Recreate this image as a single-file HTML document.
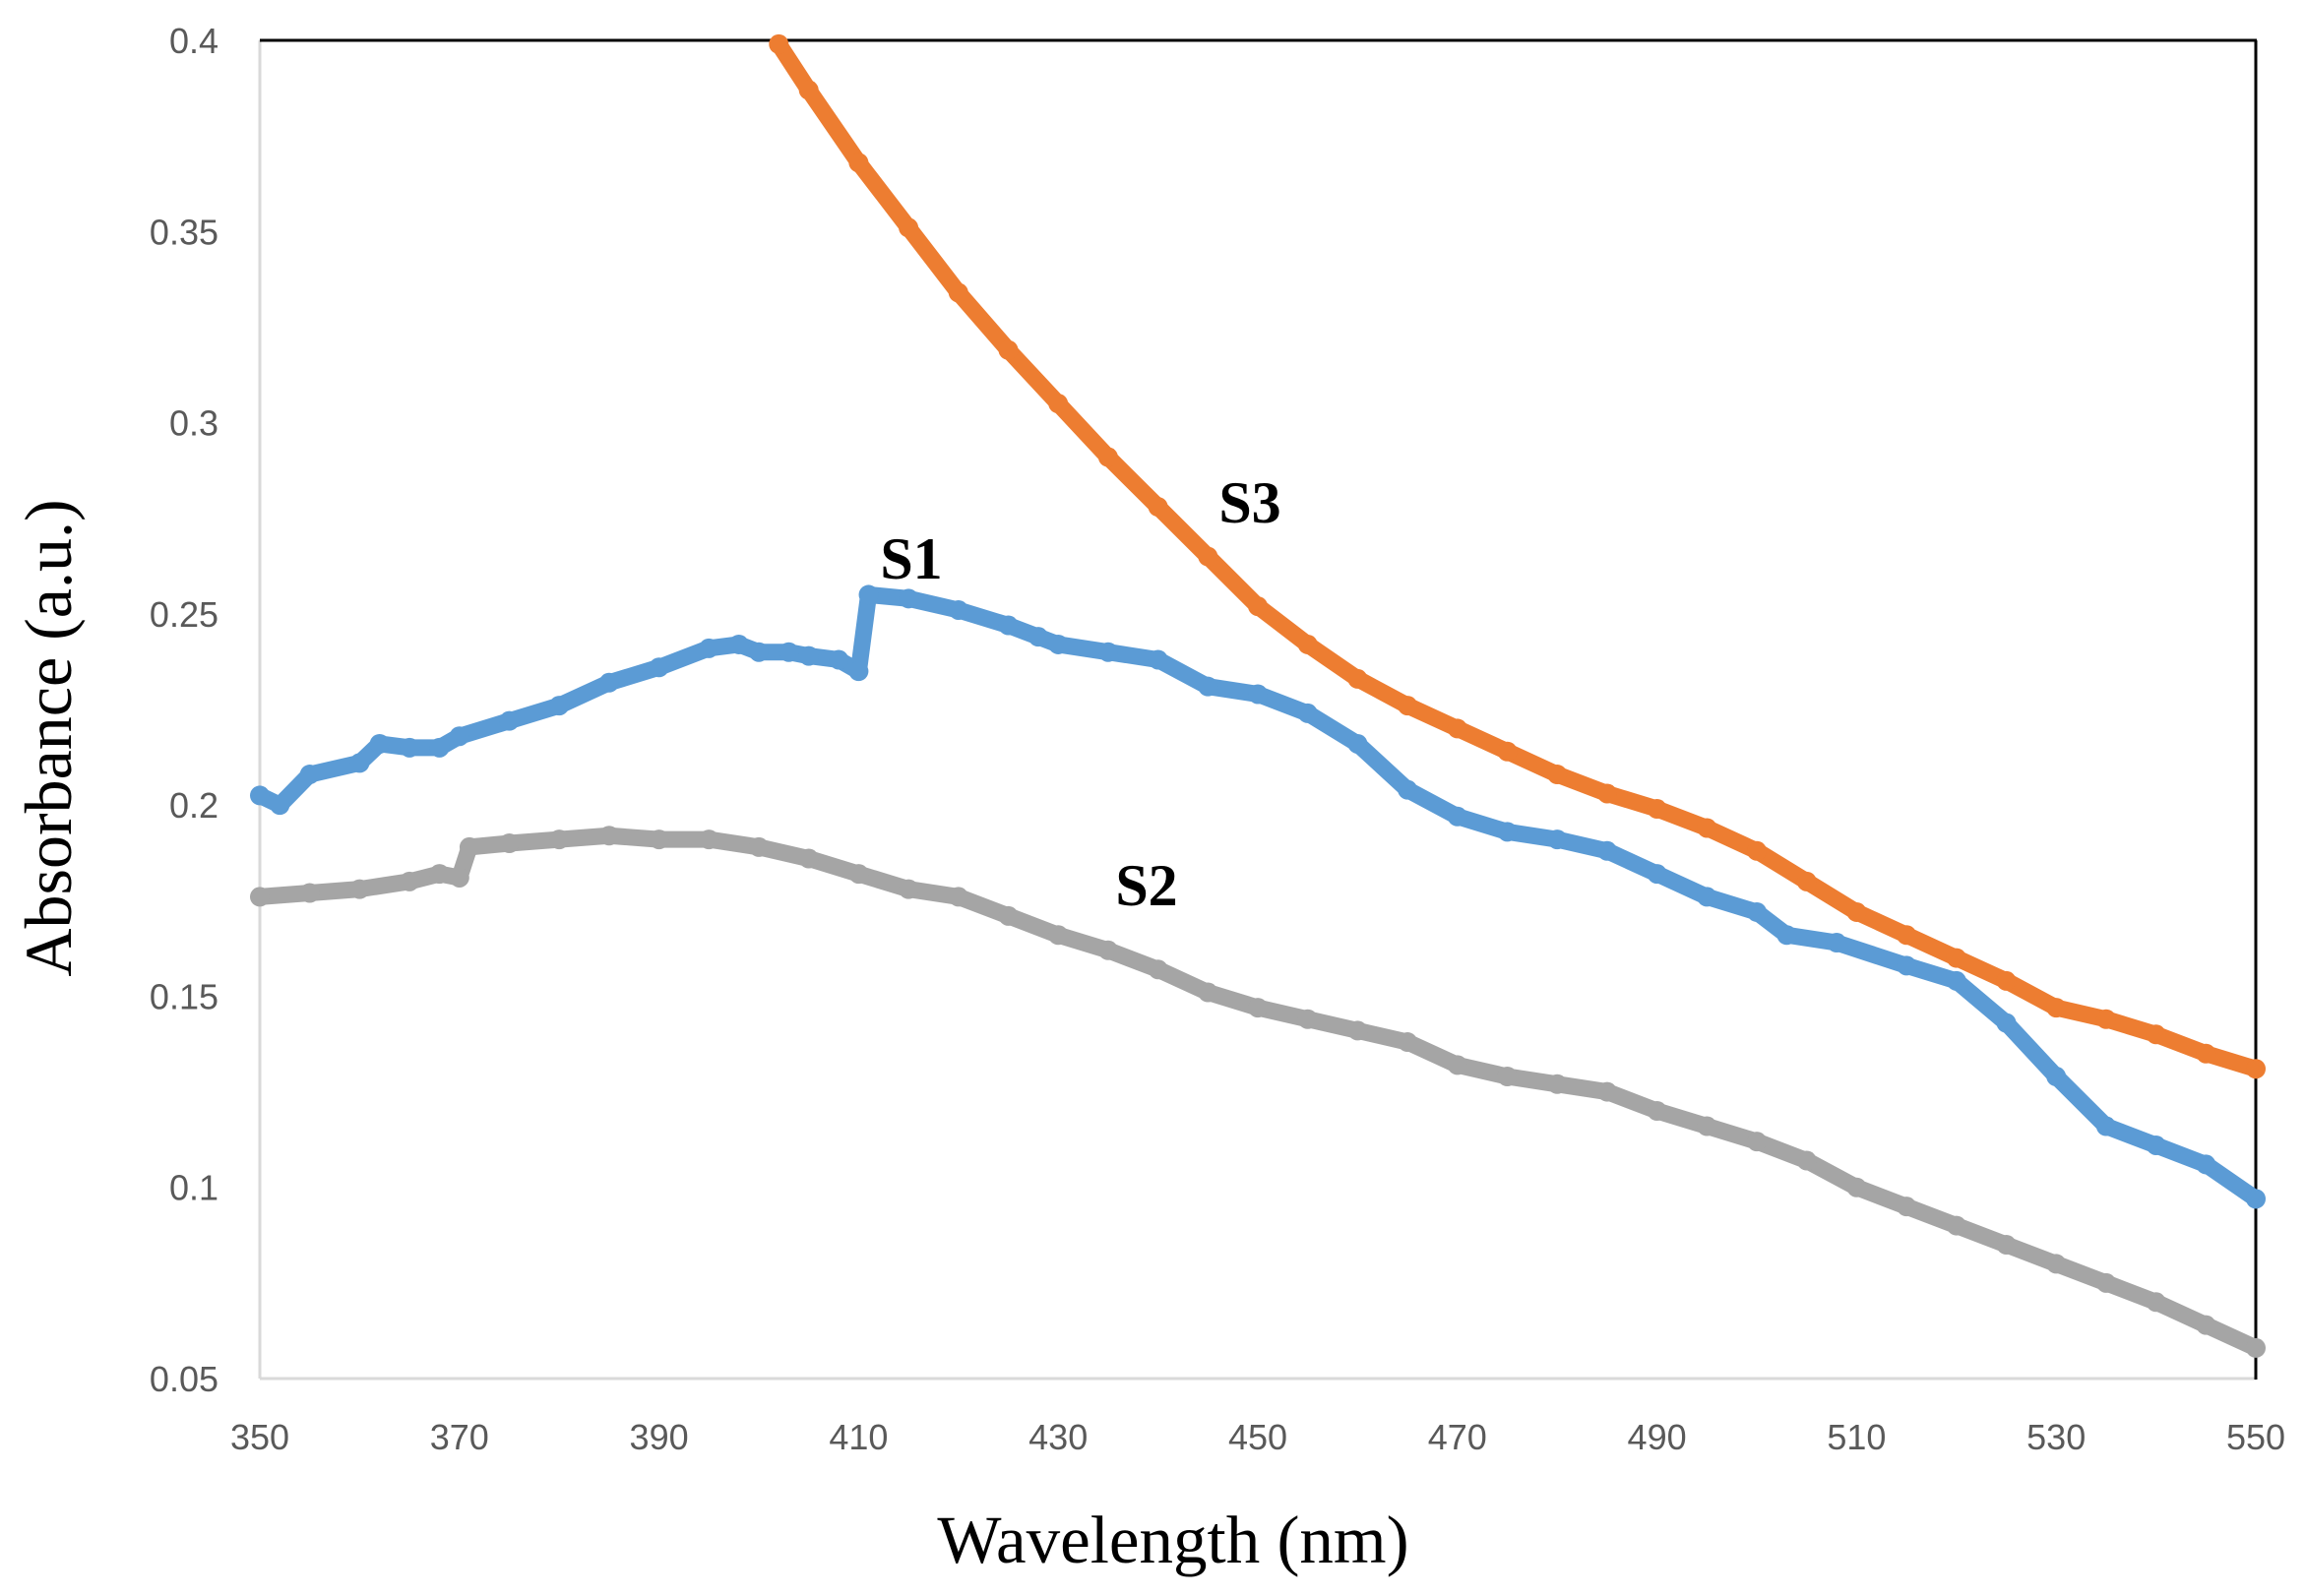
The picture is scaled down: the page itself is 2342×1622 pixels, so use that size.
<!DOCTYPE html>
<html><head><meta charset="utf-8"><style>
html,body{margin:0;padding:0;background:#fff;}
svg{display:block;}
</style></head><body>
<svg id="chart" width="2342" height="1622" viewBox="0 0 2342 1622" xmlns="http://www.w3.org/2000/svg">
<rect x="0" y="0" width="2342" height="1622" fill="#fff"/>
<g id="axes"></g>
<g id="series"></g>
<g id="labels"></g>
</svg>
<script>
const xTicks=[350,370,390,410,430,450,470,490,510,530,550];
const yTicks=[0.05,0.1,0.15,0.2,0.25,0.3,0.35,0.4];
const yTickLabels=["0.05","0.1","0.15","0.2","0.25","0.3","0.35","0.4"];
const s1X=[350,352,355,360,362,365,368,370,375,380,385,390,395,398,400,403,405,408,410,411,415,420,425,428,430,435,440,445,450,455,460,465,470,475,480,485,490,495,500,503,508,515,520,525,530,535,540,545,550];
const s1Y=[0.2025,0.200,0.208,0.211,0.216,0.215,0.215,0.218,0.222,0.226,0.232,0.236,0.241,0.242,0.240,0.240,0.239,0.238,0.235,0.255,0.254,0.251,0.247,0.244,0.242,0.240,0.238,0.231,0.229,0.224,0.216,0.204,0.197,0.193,0.191,0.188,0.182,0.176,0.172,0.166,0.164,0.158,0.154,0.143,0.129,0.116,0.111,0.106,0.097];
const s2X=[350,355,360,365,368,370,371,375,380,385,390,395,400,405,410,415,420,425,430,435,440,445,450,455,460,465,470,475,480,485,490,495,500,505,510,515,520,525,530,535,540,545,550];
const s2Y=[0.176,0.177,0.178,0.180,0.182,0.181,0.189,0.190,0.191,0.192,0.191,0.191,0.189,0.186,0.182,0.178,0.176,0.171,0.166,0.162,0.157,0.151,0.147,0.144,0.141,0.138,0.132,0.129,0.127,0.125,0.120,0.116,0.112,0.107,0.100,0.095,0.090,0.085,0.080,0.075,0.070,0.064,0.058];
const s3X=[402,405,410,415,420,425,430,435,440,445,450,455,460,465,470,475,480,485,490,495,500,505,510,515,520,525,530,535,540,545,550];
const s3Y=[0.399,0.387,0.368,0.351,0.334,0.319,0.305,0.291,0.278,0.265,0.252,0.242,0.233,0.226,0.220,0.214,0.208,0.203,0.199,0.194,0.188,0.180,0.172,0.166,0.160,0.154,0.147,0.144,0.140,0.135,0.131];

const L=264,R=2292,T=41,B=1401;
const xS=v=>L+(v-350)/200*(R-L);
const yS=v=>B-(v-0.05)/0.35*(B-T);
const NS="http://www.w3.org/2000/svg";
function mk(tag,attrs,parent){const e=document.createElementNS(NS,tag);for(const k in attrs)e.setAttribute(k,attrs[k]);parent.appendChild(e);return e;}
const axes=document.getElementById('axes'),series=document.getElementById('series'),labels=document.getElementById('labels');

let e;
e=mk('line',{x1:L,y1:T,x2:L,y2:B,stroke:'#d9d9d9','stroke-width':3},axes);


e=mk('line',{x1:L,y1:B,x2:R,y2:B,stroke:'#d9d9d9','stroke-width':3},axes);


e=mk('line',{x1:L,y1:T,x2:R+1,y2:T,stroke:'#000','stroke-width':3},axes);


e=mk('line',{x1:R,y1:T,x2:R,y2:B+1,stroke:'#000','stroke-width':3},axes);



xTicks.forEach(v=>{
  const t=mk('text',{x:xS(v),y:1473,'text-anchor':'middle','font-family':'Liberation Sans, sans-serif','font-size':36,fill:'#595959'},axes);
  t.textContent=v;
  
  
});
yTicks.forEach((v,i)=>{
  const t=mk('text',{x:222,y:yS(v)+13,'text-anchor':'end','font-family':'Liberation Sans, sans-serif','font-size':36,fill:'#595959'},axes);
  t.textContent=yTickLabels[i];
  
  
});

function drawSeries(xs,ys,color,name){
  const g=mk('g',{},series);
  
  
  const pts=xs.map((x,i)=>xS(x)+','+yS(ys[i])).join(' ');
  const p=mk('polyline',{points:pts,fill:'none',stroke:color,'stroke-width':17,'stroke-linejoin':'round','stroke-linecap':'round'},g);
  
  
  xs.forEach((x,i)=>{
    const c=mk('circle',{cx:xS(x),cy:yS(ys[i]),r:10,fill:color},g);
    
    
  });
}
drawSeries(s2X,s2Y,'#a5a5a5','series-s2');
drawSeries(s3X,s3Y,'#ed7d31','series-s3');
drawSeries(s1X,s1Y,'#5b9bd5','series-s1');

function lbl(x,y,txt,name,size,weight,rot){
  const a={x:x,y:y,'text-anchor':'middle','font-family':'Liberation Serif, serif','font-size':size,'font-weight':weight,fill:'#000'};
  if(rot)a.transform='rotate(-90 '+x+' '+y+')';
  const t=mk('text',a,labels);t.textContent=txt;
  
  
}
lbl(926,588,'S1','label-s1',60,'bold');
lbl(1165,920,'S2','label-s2',60,'bold');
lbl(1270,531,'S3','label-s3',60,'bold');
lbl(1192,1588,'Wavelength (nm)','x-axis-title',69,'normal');
lbl(72,750,'Absorbance (a.u.)','y-axis-title',68,'normal',true);
</script>
</body></html>
